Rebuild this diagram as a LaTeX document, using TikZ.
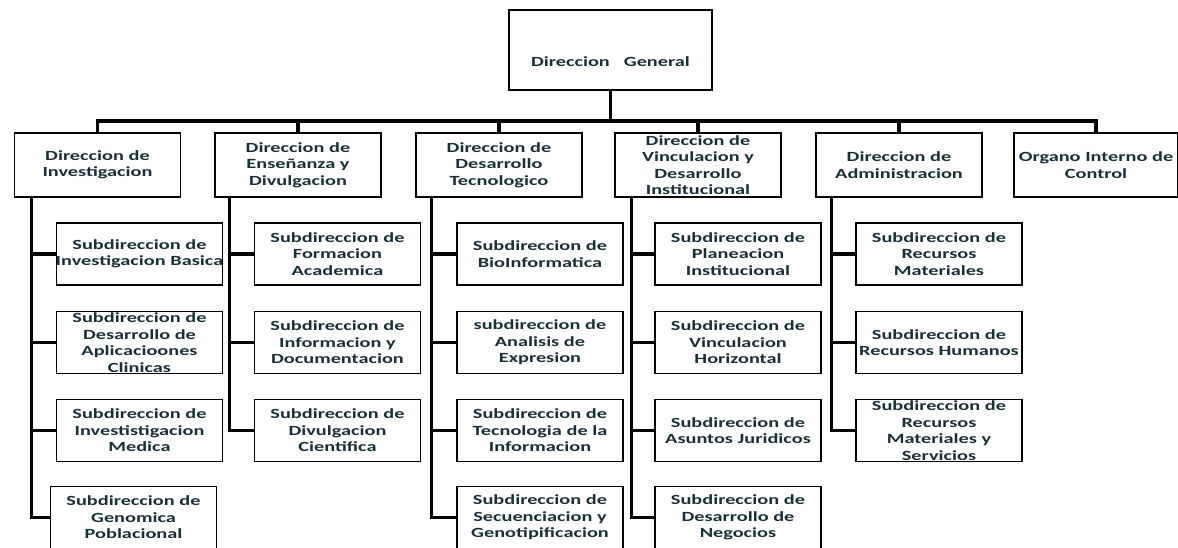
\documentclass[tikz,border=0pt]{standalone}
\usepackage{fontspec}
\setmainfont[FakeStretch=1.45]{Carlito}
\usetikzlibrary{positioning}
\definecolor{boxtext}{RGB}{25,48,55}

\begin{document}
\begin{tikzpicture}[x=1pt,y=-1pt,
	caja/.style={draw, line width=1.4pt, inner sep=0pt, text width=#1, minimum height=62pt,
		align=center, font=\fontsize{14}{16.5}\selectfont\bfseries, text=boxtext},
	caja/.default=166pt,
	jefe/.style={caja=#1, minimum height=64pt},
	jefe/.default=166pt,
	linea/.style={line width=3.5pt}]
	\useasboundingbox (0,0) rectangle (1178,548);
	\node[jefe=203pt, minimum height=80pt] (dg) at (610.5,50) {\mbox{}\\[17pt]Direccion\hspace{1em}General};
	% direcciones
	\node[jefe] (d1) at (97.5,165) {Direccion de\\Investigacion};%1
	\node[jefe] (d2) at (298,165) {Direccion de\\Enseñanza y\\Divulgacion};%2
	\node[jefe] (d3) at (499,165) {Direccion de\\Desarrollo\\Tecnologico};%3
	\node[jefe] (d4) at (698,165) {Direccion de\\Vinculacion y\\Desarrollo\\Institucional};%4
	\node[jefe] (d5) at (899,165) {Direccion de\\Administracion};%5
	\node[jefe=164pt] (d6) at (1096,165) {Organo Interno de\\Control};%6
	% subdirecciones
	\node[caja] (s11) at (139.5,254) {Subdireccion de\\\makebox[166pt]{Investigacion Basica}};
	\node[caja] (s12) at (139.5,342.5) {Subdireccion de\\Desarrollo de\\Aplicacioones\\Clinicas};
	\node[caja] (s13) at (139.5,430.5) {Subdireccion de\\Investistigacion\\Medica};
	\node[caja] (s14) at (133.5,517.5) {Subdireccion de\\Genomica\\Poblacional};
	\node[caja] (s21) at (337.5,254) {Subdireccion de\\Formacion\\Academica};
	\node[caja] (s22) at (337.5,342.5) {Subdireccion de\\Informacion y\\Documentacion};
	\node[caja] (s23) at (337.5,430.5) {Subdireccion de\\Divulgacion\\Cientifica};
	\node[caja] (s31) at (540,254) {Subdireccion de\\BioInformatica};
	\node[caja] (s32) at (540,342.5) {subdireccion de\\Analisis de\\Expresion};
	\node[caja] (s33) at (540,430.5) {Subdireccion de\\Tecnologia de la\\Informacion};
	\node[caja] (s34) at (540,517.5) {Subdireccion de\\Secuenciacion y\\Genotipificacion};
	\node[caja] (s41) at (738,254) {Subdireccion de\\Planeacion\\Institucional};
	\node[caja] (s42) at (738,342.5) {Subdireccion de\\Vinculacion\\Horizontal};
	\node[caja] (s43) at (738,430.5) {Subdireccion de\\Asuntos Juridicos};
	\node[caja] (s44) at (738,517.5) {Subdireccion de\\Desarrollo de\\Negocios};
	\node[caja] (s51) at (939,254) {Subdireccion de\\Recursos\\Materiales};
	\node[caja] (s52) at (939,342.5) {Subdireccion de\\\makebox[166pt]{Recursos Humanos}};
	\node[caja] (s53) at (939,430.5) {Subdireccion de\\Recursos\\Materiales y\\Servicios};
	% barra principal
	\coordinate (bar) at (0,121);
	\draw[linea] (dg.south) -- (dg.south |- bar);
	\draw[linea] (d1.north) -- (d1.north |- bar) -| (d6.north);
	\draw[linea] (d2.north) -- (d2.north |- bar);
	\draw[linea] (d3.north) -- (d3.north |- bar);
	\draw[linea] (d4.north) -- (d4.north |- bar);
	\draw[linea] (d5.north) -- (d5.north |- bar);
	% columnas
	\coordinate (v1) at ([xshift=17.5pt]d1.south west);
	\coordinate (v2) at ([xshift=15pt]d2.south west);
	\coordinate (v3) at ([xshift=16pt]d3.south west);
	\coordinate (v4) at ([xshift=17pt]d4.south west);
	\coordinate (v5) at ([xshift=16pt]d5.south west);
	\draw[linea] (v1) |- (s14.west);
	\draw[linea] (s11.west) -- (s11.west -| v1);
	\draw[linea] (s12.west) -- (s12.west -| v1);
	\draw[linea] (s13.west) -- (s13.west -| v1);
	\draw[linea] (v2) |- (s23.west);
	\draw[linea] (s21.west) -- (s21.west -| v2);
	\draw[linea] (s22.west) -- (s22.west -| v2);
	\draw[linea] (v3) |- (s34.west);
	\draw[linea] (s31.west) -- (s31.west -| v3);
	\draw[linea] (s32.west) -- (s32.west -| v3);
	\draw[linea] (s33.west) -- (s33.west -| v3);
	\draw[linea] (v4) |- (s44.west);
	\draw[linea] (s41.west) -- (s41.west -| v4);
	\draw[linea] (s42.west) -- (s42.west -| v4);
	\draw[linea] (s43.west) -- (s43.west -| v4);
	\draw[linea] (v5) |- (s53.west);
	\draw[linea] (s51.west) -- (s51.west -| v5);
	\draw[linea] (s52.west) -- (s52.west -| v5);
\end{tikzpicture}
\end{document}
